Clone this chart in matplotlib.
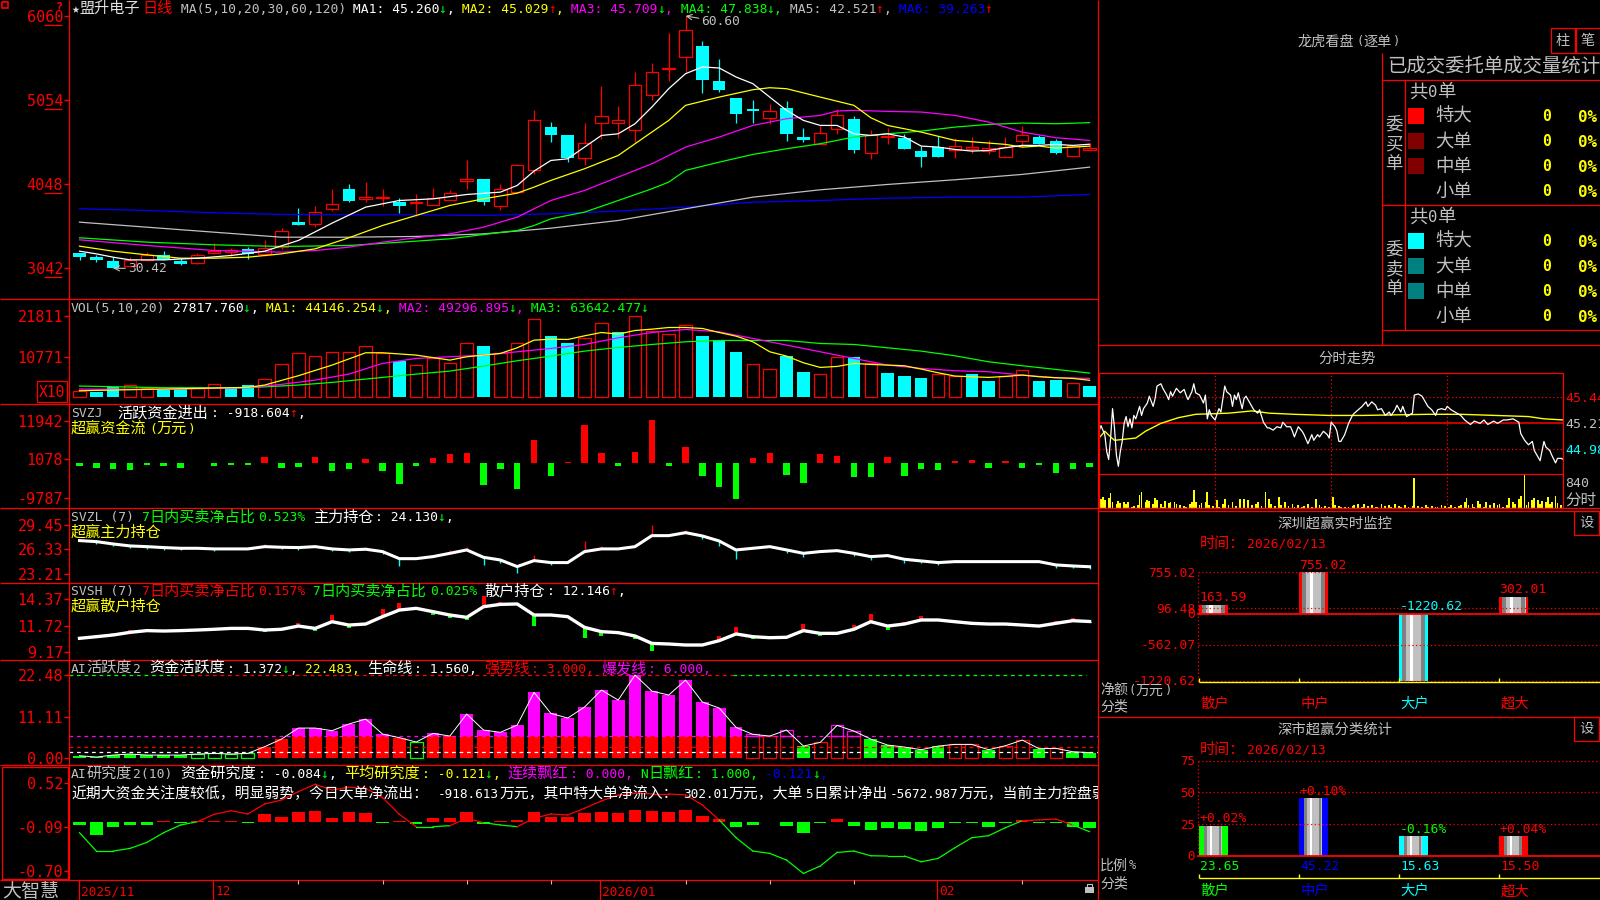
import matplotlib
matplotlib.use('Agg')
import matplotlib.pyplot as plt
from matplotlib.patches import Rectangle
import numpy as np

# ---------------- daily candles (盟升电子 日线) ----------------
opens = [32.27, 31.83, 31.35, 30.75, 31.43, 32.07, 31.35, 31.03, 32.27, 32.43,
         32.75, 32.15, 32.95, 35.90, 35.74, 37.50, 39.93, 38.69, 38.81, 38.30,
         38.22, 37.98, 38.65, 40.89, 41.13, 37.90, 39.53, 42.21, 47.31, 46.31,
         43.64, 47.83, 47.83, 46.99, 51.14, 54.26, 55.69, 56.97, 52.78, 50.82,
         49.43, 48.43, 49.59, 46.12, 45.32, 47.11, 48.31, 44.20, 46.08, 46.04,
         44.40, 44.92, 44.60, 44.72, 44.44, 43.72, 45.64, 46.12, 45.60, 43.88, 44.60]
closes = [31.75, 31.39, 30.45, 31.43, 31.99, 31.39, 30.95, 32.03, 32.55, 32.63,
          32.15, 32.87, 34.94, 35.62, 37.18, 38.14, 38.46, 38.93, 38.93, 37.86,
          38.38, 38.85, 39.45, 41.13, 38.34, 39.93, 42.72, 48.19, 46.31, 43.64,
          45.44, 48.63, 48.19, 52.38, 53.94, 54.34, 58.96, 52.90, 51.70, 48.91,
          49.27, 49.27, 46.52, 45.80, 46.64, 48.79, 44.52, 46.31, 46.24, 44.68,
          43.72, 43.72, 45.08, 44.88, 44.76, 44.92, 46.32, 45.24, 44.20, 45.04, 44.76]
highs = [32.27, 32.07, 31.75, 31.83, 32.35, 32.55, 31.67, 32.23, 33.47, 32.87,
         32.95, 33.75, 35.26, 37.66, 37.93, 39.85, 40.45, 40.69, 39.93, 38.85,
         39.25, 39.97, 39.81, 43.32, 41.13, 40.53, 42.92, 49.31, 47.87, 46.31,
         47.83, 52.18, 49.87, 53.86, 54.93, 58.60, 60.60, 57.57, 55.49, 50.82,
         50.50, 50.03, 50.39, 47.15, 47.39, 49.51, 48.63, 46.91, 47.19, 46.52,
         45.08, 46.20, 46.00, 46.08, 45.80, 46.12, 47.39, 46.32, 45.84, 45.04, 45.40]
lows = [31.47, 31.15, 30.42, 30.55, 31.27, 31.39, 30.87, 30.95, 32.15, 31.87,
        31.55, 31.87, 32.75, 35.62, 35.42, 37.26, 38.30, 38.30, 37.86, 37.02,
        36.62, 37.98, 38.65, 39.93, 37.98, 37.34, 39.45, 41.73, 45.52, 43.12,
        42.72, 45.92, 46.04, 45.52, 50.58, 52.82, 53.90, 51.38, 51.50, 47.79,
        47.79, 47.71, 45.64, 45.52, 45.32, 46.43, 44.20, 43.44, 45.24, 44.68,
        42.53, 43.72, 43.60, 44.20, 44.12, 43.72, 44.92, 45.24, 44.04, 43.88, 44.60]

ma5_idx = [0, 1, 2, 3, 5, 7, 9, 11, 13, 15, 17, 19, 21, 23, 25, 26, 27, 28, 29, 30,
           31, 32, 33, 34, 35, 36, 37, 38, 39, 40, 41, 42, 43, 44, 45, 46, 47, 48, 49, 50,
           51, 52, 53, 54, 55, 56, 57, 58, 59, 60]
ma5 = [32.47, 32.15, 31.75, 31.43, 31.43, 31.63, 31.95, 32.47, 33.75, 35.82,
       37.74, 38.53, 38.73, 39.25, 39.53, 40.33, 42.05, 43.32, 43.52, 44.92,
       46.31, 46.51, 47.71, 49.71, 51.90, 53.70, 54.50, 54.38, 53.30, 52.50,
       50.90, 49.31, 48.11, 47.51, 47.51, 46.51, 46.31, 46.51, 46.12, 45.04,
       44.92, 44.64, 44.44, 44.52, 44.84, 45.12, 45.12, 45.24, 45.12, 45.26]
ma10_idx = [0, 2, 4, 6, 8, 10, 12, 14, 16, 18, 20, 22, 24, 26, 27, 28, 30, 32, 33, 35,
            36, 38, 40, 41, 42, 44, 46, 47, 48, 50, 52, 54, 55, 56, 57, 58, 60]
ma10 = [33.07, 32.47, 32.03, 31.63, 31.63, 31.75, 32.15, 32.75, 34.07, 35.54,
        36.74, 37.94, 38.73, 39.41, 40.13, 40.93, 42.33, 43.92, 45.32, 48.11,
        49.91, 50.90, 51.78, 52.02, 51.90, 50.90, 49.91, 48.43, 47.51, 46.71,
        45.72, 45.40, 45.24, 44.92, 45.04, 44.80, 45.03]
ma20_idx = [0, 4, 8, 12, 14, 16, 18, 20, 22, 24, 26, 27, 28, 30, 32, 34, 36, 38, 40, 42,
            44, 45, 46, 48, 50, 52, 54, 56, 58, 60]
ma20 = [33.83, 33.15, 32.55, 32.35, 32.55, 32.95, 33.55, 34.07, 34.54, 35.34,
        36.54, 37.54, 38.53, 39.73, 41.33, 42.92, 44.92, 46.12, 47.51, 48.31,
        48.71, 49.23, 49.31, 49.19, 49.11, 48.71, 47.91, 46.71, 46.04, 45.71]
ma30_idx = [0, 4, 8, 12, 16, 20, 22, 24, 26, 27, 28, 30, 32, 34, 35, 36, 38, 40, 42, 44,
            46, 48, 50, 52, 54, 56, 58, 60]
ma30 = [34.07, 33.55, 33.23, 33.03, 33.15, 33.67, 33.95, 34.46, 34.94, 35.54,
        36.34, 37.14, 38.53, 39.93, 40.73, 42.13, 43.12, 44.04, 44.72, 45.32,
        46.12, 46.51, 46.83, 47.31, 47.63, 47.79, 47.71, 47.84]
ma_long_idx = [0, 4, 8, 12, 16, 20, 24, 28, 32, 36, 40, 44, 48, 52, 56, 60]
ma60 = [35.94, 35.34, 34.74, 34.14, 34.14, 34.23, 34.54, 35.22,
        36.14, 37.54, 38.93, 39.81, 40.45, 41.01, 41.65, 42.52]
ma120 = [37.54, 37.34, 37.06, 36.86, 36.82, 36.82, 36.74, 36.94,
         37.26, 37.74, 38.33, 38.53, 38.81, 38.93, 38.93, 39.26]

# ---------------- volume (x10) ----------------
vol = [1523, 1344, 2688, 3136, 2419, 1971, 1971, 2419, 3315, 2240,
       3136, 4659, 8691, 11648, 10931, 11917, 11917, 13530, 11738, 9587,
       8422, 10483, 8960, 14336, 13619, 11648, 14336, 20877, 16307, 14426,
       15680, 19981, 17382, 21862, 17651, 16755, 19264, 16307, 15142, 12006,
       8691, 7347, 10931, 6630, 6003, 10662, 10662, 8960, 6362, 5555,
       5018, 6003, 5555, 6093, 4211, 5555, 7078, 4211, 4480, 3584, 2782]
vol_up = [1, 0, 0, 1, 1, 0, 0, 1, 1, 0,
          0, 1, 1, 1, 1, 1, 1, 1, 1, 0,
          1, 1, 1, 1, 0, 1, 1, 1, 0, 0,
          1, 1, 0, 1, 1, 1, 1, 0, 0, 0,
          1, 1, 0, 0, 1, 1, 0, 1, 0, 0,
          0, 1, 1, 0, 0, 1, 1, 0, 0, 1, 0]
vma5_idx = [0, 5, 10, 11, 13, 15, 17, 18, 20, 22, 23, 24, 25, 26, 27, 28, 29, 30, 31, 32,
            33, 34, 35, 36, 37, 38, 39, 40, 41, 42, 43, 44, 45, 46, 47, 48, 49, 50, 51, 52,
            53, 54, 55, 56, 57, 58, 59, 60]
vma5 = [1613, 2061, 2509, 3136, 5645, 8512, 11827, 11827, 11200, 9856,
        10752, 11200, 11648, 13171, 15232, 15501, 15411, 16397, 17293, 16845,
        17830, 18189, 18637, 18637, 18368, 17293, 16307, 14784, 12096, 10931,
        9139, 7885, 8154, 8960, 8691, 8512, 8333, 7437, 6451, 5555,
        5376, 5197, 5466, 5824, 5376, 5107, 4928, 4415]
vma10_idx = [0, 5, 10, 12, 14, 16, 18, 20, 22, 24, 26, 28, 30, 32, 34, 36, 38, 40, 42, 44,
             46, 48, 50, 52, 54, 56, 58, 60]
vma10 = [2061, 1971, 2419, 3315, 4480, 6093, 8960, 10304, 10752, 11200,
         12096, 12992, 14067, 15859, 17293, 18099, 17472, 15680, 13888, 12096,
         10304, 8512, 7616, 6989, 6720, 5824, 5107, 4930]
vma20_idx = [0, 5, 10, 13, 15, 18, 20, 22, 24, 26, 28, 30, 32, 34, 36, 38, 40, 42, 44, 46,
             48, 50, 52, 54, 56, 58, 60]
vma20 = [2867, 2419, 2419, 3136, 3853, 5197, 6093, 6899, 8243, 9677,
         10931, 12275, 13261, 14067, 14784, 15142, 15142, 15142, 14336, 14067,
         13171, 12275, 11021, 9408, 8333, 7347, 6364]

# ---------------- indicators ----------------
svzj = [-724, -1177, -1448, -1991, -453, -724, -1177, 100, -724, -453,
        -453, 1720, -1177, -905, 1720, -2263, -1720, 1177, -2263, -5792,
        -724, 1448, 2534, 2806, -6064, -1448, -7150, 6426, -3620, 362,
        10679, 2806, -724, 3077, 12037, -634, 4706, -3620, -6607, -9865,
        1448, 2806, -3349, -5521, 2534, 1991, -3892, -3892, 1720, -3620,
        -1720, -1991, 634, 905, -1177, 634, -1177, -453, -2806, -1448, -919]
svzl = [27.46, 27.33, 27.03, 26.78, 26.69, 26.57, 26.48, 26.48, 26.40, 26.40,
        26.40, 26.69, 26.61, 26.57, 26.69, 26.40, 26.27, 26.36, 26.06, 25.16,
        25.16, 25.42, 25.84, 26.27, 25.33, 24.99, 24.15, 24.91, 24.66, 24.66,
        26.06, 26.40, 26.40, 26.69, 28.09, 28.09, 28.47, 28.05, 27.41, 26.27,
        26.48, 26.69, 26.27, 25.84, 26.06, 26.18, 25.84, 25.42, 25.55, 25.08,
        24.87, 24.66, 24.78, 24.78, 24.78, 24.78, 24.78, 24.78, 24.36, 24.23, 24.13]
svsh = [10.49, 10.65, 10.82, 11.08, 11.25, 11.21, 11.25, 11.31, 11.38, 11.47,
        11.47, 11.31, 11.38, 11.70, 11.47, 12.13, 11.80, 11.90, 12.63, 13.28,
        13.45, 13.12, 12.79, 12.56, 13.61, 13.84, 13.88, 12.79, 12.79, 12.63,
        11.57, 11.15, 11.05, 10.72, 9.99, 9.93, 9.83, 9.83, 10.26, 10.92,
        10.65, 10.55, 10.59, 11.25, 10.98, 10.98, 11.38, 12.13, 11.70, 11.90,
        12.30, 12.30, 12.13, 11.97, 11.90, 11.90, 11.80, 11.70, 11.97, 12.23, 12.15]
huoyue = [0.54, 0.18, 0.72, 1.00, 0.72, 0.72, 0.72, 1.00, 1.18, 1.00,
          1.18, 3.00, 5.07, 8.06, 8.06, 7.34, 9.15, 10.51, 6.43, 5.44,
          4.26, 6.61, 5.89, 11.87, 7.52, 6.89, 8.88, 17.76, 12.05, 10.78,
          13.77, 18.39, 15.67, 22.47, 18.12, 17.03, 21.11, 15.13, 13.50, 8.24,
          6.34, 5.89, 7.52, 3.17, 4.17, 8.79, 7.25, 5.07, 3.44, 2.90,
          2.17, 3.17, 3.62, 3.62, 2.17, 3.26, 4.80, 2.45, 2.54, 1.63, 1.37]
# R/G filled, r/g hollow
huoyue_style = "GGGGGGGggggRRRRRRRRRgRRRRRRRRRRRRRRRRRRRrrrGrrrGGGGGrrGrrGrGG"
yanjiu = [-0.046, -0.185, -0.069, -0.046, -0.046, 0.010, -0.023, 0.010, 0.010, 0.010,
          -0.023, 0.106, 0.060, 0.139, 0.153, 0.046, 0.134, 0.125, -0.014, 0.010,
          -0.032, 0.051, 0.051, 0.134, -0.032, 0.010, 0.023, 0.130, 0.069, 0.060,
          0.125, 0.139, 0.125, 0.162, 0.148, 0.139, 0.162, 0.083, 0.037, -0.069,
          -0.046, -0.010, -0.056, -0.153, -0.014, 0.032, -0.056, -0.116, -0.083, -0.102,
          -0.125, -0.083, -0.014, -0.023, -0.069, -0.014, 0.023, -0.023, -0.014, -0.069, -0.084]
yanjiu_line = [-0.173, -0.428, -0.428, -0.391, -0.308, -0.173, -0.067, -0.021, 0.081, 0.132,
               0.086, 0.225, 0.280, 0.396, 0.498, 0.419, 0.456, 0.442, 0.313, 0.081,
               -0.090, -0.090, -0.076, 0.026, -0.034, -0.067, -0.090, 0.026, 0.086, 0.072,
               0.165, 0.267, 0.350, 0.373, 0.364, 0.364, 0.350, 0.211, 0.003, -0.243,
               -0.428, -0.460, -0.553, -0.738, -0.636, -0.447, -0.428, -0.493, -0.497, -0.497,
               -0.576, -0.530, -0.382, -0.243, -0.215, -0.104, -0.007, 0.003, 0.016, -0.067, -0.159]
date_idx = [0, 8, 31, 51]
date_lab = ['2025/11', '12', '2026/01', '02']
week_idx = [13, 18, 23, 28, 36, 41, 46, 56]

# ---------------- intraday (分时走势) ----------------
fs_t = [0, 1, 3, 4, 5, 6, 7, 8, 9, 10, 11, 12, 13, 14, 15, 16, 17, 18, 19, 21,
        22, 23, 25, 26, 28, 29, 30, 32, 33, 35, 36, 37, 38, 40, 42, 44, 45, 46, 48, 49,
        50, 52, 54, 55, 56, 57, 58, 60, 62, 63, 65, 66, 68, 69, 70, 71, 72, 74, 75, 76,
        78, 80, 82, 83, 85, 87, 88, 90, 92, 94, 95, 97, 99, 100, 101, 103, 105, 106, 108, 110,
        111, 113, 114, 116, 118, 119, 120, 122, 123, 124, 125, 127, 129, 131, 132, 134, 136, 138, 139, 141,
        143, 144, 146, 148, 150, 151, 153, 154, 156, 157, 159, 160, 162, 163, 165, 167, 169, 170, 172, 174,
        175, 177, 179, 180, 182, 184, 187, 189, 192, 194, 197, 199, 201, 204, 206, 209, 211, 214, 217, 218,
        220, 222, 224, 225, 228, 230, 231, 233, 234, 236, 237, 239, 240]
fs_p = [45.14, 45.19, 45.11, 44.96, 44.89, 45.08, 45.34, 45.17, 44.93, 44.83,
        44.96, 45.05, 45.21, 45.27, 45.18, 45.25, 45.17, 45.28, 45.25, 45.36,
        45.28, 45.34, 45.39, 45.45, 45.36, 45.43, 45.54, 45.56, 45.52, 45.46,
        45.42, 45.49, 45.45, 45.52, 45.48, 45.51, 45.46, 45.42, 45.49, 45.56,
        45.48, 45.46, 45.39, 45.46, 45.25, 45.33, 45.28, 45.24, 45.34, 45.31,
        45.54, 45.49, 45.46, 45.36, 45.46, 45.42, 45.48, 45.34, 45.43, 45.45,
        45.39, 45.33, 45.30, 45.33, 45.22, 45.17, 45.17, 45.15, 45.18, 45.17,
        45.22, 45.18, 45.18, 45.14, 45.09, 45.18, 45.14, 45.11, 45.03, 45.11,
        45.06, 45.11, 45.09, 45.14, 45.11, 45.08, 45.22, 45.18, 45.14, 45.05,
        45.05, 45.11, 45.21, 45.28, 45.30, 45.33, 45.36, 45.40, 45.36, 45.40,
        45.37, 45.33, 45.34, 45.28, 45.31, 45.28, 45.33, 45.37, 45.31, 45.36,
        45.27, 45.28, 45.30, 45.46, 45.47, 45.45, 45.39, 45.36, 45.33, 45.28,
        45.33, 45.34, 45.33, 45.36, 45.33, 45.31, 45.28, 45.24, 45.20, 45.23,
        45.21, 45.24, 45.20, 45.23, 45.21, 45.24, 45.24, 45.25, 45.22, 45.12,
        45.06, 45.02, 45.05, 44.97, 44.88, 45.05, 45.00, 44.97, 44.93, 44.86,
        44.90, 44.90, 44.89]
fs_avg_t = [0, 3, 6, 8, 19, 24, 32, 41, 50, 67, 79, 88, 101, 119, 136, 170, 187, 205, 222, 230, 240]
fs_avg = [45.08, 45.14, 45.09, 45.06, 45.08, 45.14, 45.21, 45.26, 45.29, 45.30, 45.32,
          45.30, 45.29, 45.28, 45.28, 45.29, 45.29, 45.28, 45.27, 45.25, 45.24]
fs_vt = [1, 2, 3, 5, 6, 7, 9, 10, 11, 13, 14, 15, 17, 18, 20, 21, 22, 24, 25, 26,
         28, 29, 30, 32, 33, 34, 36, 37, 39, 40, 42, 44, 45, 47, 48, 49, 50, 52, 53, 55,
         56, 57, 59, 61, 62, 64, 65, 67, 69, 71, 73, 75, 77, 79, 81, 82, 84, 86, 88, 89,
         91, 93, 94, 96, 98, 100, 101, 103, 105, 106, 108, 110, 112, 114, 115, 117, 119, 121, 122, 124,
         125, 127, 129, 131, 132, 134, 136, 137, 139, 141, 143, 144, 146, 148, 150, 151, 153, 155, 156, 158,
         160, 162, 163, 165, 167, 169, 170, 172, 174, 175, 177, 179, 181, 182, 184, 186, 187, 189, 190, 191,
         193, 194, 196, 197, 199, 200, 202, 204, 206, 207, 209, 211, 212, 214, 215, 217, 218, 220, 221, 222,
         224, 225, 227, 228, 229, 231, 232, 233, 234, 236, 237, 239]
fs_v = [305, 382, 273, 327, 491, 218, 131, 240, 164, 218,
        131, 196, 55, 76, 109, 436, 545, 218, 273, 240,
        131, 327, 273, 131, 55, 240, 164, 218, 196, 131,
        109, 87, 55, 131, 218, 600, 218, 109, 164, 218,
        545, 109, 76, 273, 55, 131, 305, 109, 218, 87,
        305, 305, 273, 109, 131, 218, 87, 545, 305, 131,
        87, 382, 109, 218, 87, 131, 55, 109, 44, 76,
        131, 55, 305, 109, 55, 87, 44, 382, 109, 76,
        44, 55, 55, 87, 109, 131, 55, 131, 76, 109,
        55, 44, 131, 76, 109, 55, 131, 76, 44, 109,
        55, 76, 1014, 76, 44, 109, 44, 87, 55, 44,
        109, 76, 44, 109, 44, 76, 109, 218, 349, 109,
        153, 55, 240, 131, 55, 218, 109, 164, 109, 131,
        55, 109, 349, 218, 131, 305, 414, 1123, 109, 218,
        273, 349, 273, 131, 240, 218, 382, 131, 218, 414,
        164, 109]

# ---------------- right-side bar panels ----------------
cats = ['散户', '中户', '大户', '超大']
net_amount = [163.59, 755.02, -1220.62, 302.01]
net_ticks = [755.02, 96.48, -562.07, -1220.62]
ratio = [23.65, 45.22, 15.63, 15.50]
ratio_chg = ['+0.02%', '+0.10%', '-0.16%', '+0.04%']
ratio_ticks = [75, 50, 25, 0]
order_rows = ['特大', '大单', '中单', '小单']

RED, CYAN, GREEN, MAG = '#ff0000', '#00ffff', '#00ff00', '#ff00ff'
YEL, GRAY, WHITE, BLUE = '#ffff00', '#c0c0c0', '#ffffff', '#0000ff'
MONO = ['DejaVu Sans Mono', 'DejaVu Sans']
CJK = ['Noto Sans CJK SC', 'DejaVu Sans']
W, H = 1600, 900

fig = plt.figure(figsize=(16, 9), dpi=100, facecolor='black')
ov = fig.add_axes([0, 0, 1, 1], zorder=10)
ov.set_xlim(0, W)
ov.set_ylim(H, 0)
ov.axis('off')


def px_axes(x0, y0, x1, y1):
    ax = fig.add_axes([x0 / W, 1 - y1 / H, (x1 - x0) / W, (y1 - y0) / H])
    ax.set_facecolor('black')
    for s in ax.spines.values():
        s.set_visible(False)
    ax.set_xticks([])
    ax.set_yticks([])
    return ax


def to_px(ax, x, y):
    dx, dy = ax.transData.transform((x, y))
    return dx, H - dy


def put(x, y, parts, w=7.8, weight='normal'):
    # fixed cell layout like the terminal font: ascii = w px, cjk = 2w px
    fs_n = w / 0.602 * 0.72
    fs_w = 2 * w * 0.97 * 0.72
    base = y + 0.36 * w / 0.602
    for s, col in parts:
        i = 0
        while i < len(s):
            wide = ord(s[i]) >= 0x2E80
            j = i
            while j < len(s) and (ord(s[j]) >= 0x2E80) == wide:
                j += 1
            run = s[i:j]
            if run.strip():
                ov.text(x, base, run, color=col, fontsize=fs_w if wide else fs_n,
                        family=CJK if wide else MONO, va='baseline', ha='left',
                        fontweight=weight)
            x += len(run) * (2 * w if wide else w)
            i = j
    return x


def hl(y, x0, x1, c=RED, lw=0.9, ls='-', z=2):
    ov.plot([x0, x1], [y, y], color=c, lw=lw, ls=ls, solid_capstyle='butt', zorder=z)


def vl(x, y0, y1, c=RED, lw=0.9, ls='-', z=2):
    ov.plot([x, x], [y0, y1], color=c, lw=lw, ls=ls, solid_capstyle='butt', zorder=z)


X0, X1 = 69.4, 1098
XL = (-0.6, 60.5)


def panel(y0, y1, ylim, ticks, labels):
    ax = px_axes(X0, y0, X1, y1)
    ax.set_xlim(*XL)
    ax.set_ylim(*ylim)
    ax.set_yticks(ticks)
    ax.set_yticklabels(labels, family=MONO, fontsize=10.9)
    ax.tick_params(axis='y', colors=RED, length=3.5, width=1, direction='out', pad=1)
    return ax


x = np.arange(len(opens))

# ---- candles ----
ax_k = panel(0, 299, (26.75, 62.51), [60.60, 50.54, 40.48, 30.42], ['6060', '5054', '4048', '3042'])
o, c, hi, lo = map(np.array, (opens, closes, highs, lows))
up = c >= o
top, bot = np.maximum(o, c), np.minimum(o, c)
ax_k.vlines(x[~up], lo[~up], hi[~up], color=CYAN, lw=0.9)
ax_k.vlines(x[up], top[up], hi[up], color=RED, lw=0.9)
ax_k.vlines(x[up], lo[up], bot[up], color=RED, lw=0.9)
ax_k.bar(x[~up], np.maximum(top - bot, 0.1)[~up], bottom=bot[~up], width=0.74, color=CYAN, lw=0)
ax_k.bar(x[up], np.maximum(top - bot, 0.05)[up], bottom=bot[up], width=0.74,
         facecolor='none', edgecolor=RED, lw=0.9)
for idx, vals, col in [(ma_long_idx, ma120, BLUE), (ma_long_idx, ma60, GRAY), (ma30_idx, ma30, GREEN),
                       (ma20_idx, ma20, MAG), (ma10_idx, ma10, YEL), (ma5_idx, ma5, WHITE)]:
    ax_k.plot(idx, vals, color=col, lw=0.9, zorder=3)
imax, imin = int(np.argmax(hi)), int(np.argmin(lo))
ax_k.annotate(f'{hi[imax]:.2f}', xy=(imax, hi[imax]), xytext=(16, -6), textcoords='offset pixels',
              color=GRAY, family=MONO, fontsize=9.3, va='center', ha='left',
              arrowprops=dict(arrowstyle='->', color=GRAY, lw=0.8, shrinkA=0, shrinkB=0))
ax_k.annotate(f'{lo[imin]:.2f}', xy=(imin, lo[imin]), xytext=(15, 0), textcoords='offset pixels',
              color=GRAY, family=MONO, fontsize=9.3, va='center', ha='left',
              arrowprops=dict(arrowstyle='->', color=GRAY, lw=0.8, shrinkA=0, shrinkB=0))
for p in [60.60, 50.54, 40.48, 30.42]:
    _, py = to_px(ax_k, 0, p)
    hl(py + 9, 44, 62, lw=0.9)

# ---- volume ----
ax_v = panel(299, 404, (-1966, 26311), [21811, 10771], ['21811', '10771'])
vu = np.array(vol_up, bool)
va = np.array(vol)
ax_v.bar(x[~vu], va[~vu], width=0.74, color=CYAN, lw=0)
ax_v.bar(x[vu], va[vu], width=0.74, facecolor='none', edgecolor=RED, lw=0.9)
ax_v.plot(vma20_idx, vma20, color=GREEN, lw=0.9)
ax_v.plot(vma10_idx, vma10, color=MAG, lw=0.9)
ax_v.plot(vma5_idx, vma5, color=YEL, lw=0.9)

# ---- SVZJ ----
ax_zj = panel(404, 508, (-12503, 16618), [11942, 1078, -9787], ['11942', '1078', '-9787'])
zj = np.array(svzj)
ax_zj.bar(x, zj, width=0.38, color=[RED if v > 0 else GREEN for v in zj], lw=0)

# ---- SVZL ----
ax_zl = panel(508, 583, (22.06, 31.61), [29.45, 26.33, 23.21], ['29.45', '26.33', '23.21'])
zl = np.array(svzl)
d = np.diff(zl)
d = np.where((np.abs(d) < 0.25) & (d != 0), np.sign(d) * 0.25, d)
ax_zl.vlines(x[1:], zl[1:], zl[1:] + d, colors=[RED if v > 0 else CYAN for v in d], lw=1.0)
ax_zl.plot(x, zl, color=WHITE, lw=2.2)

# ---- SVSH ----
ax_sh = panel(583, 660, (8.35, 15.95), [14.37, 11.72, 9.17], ['14.37', '11.72', '9.17'])
sh = np.array(svsh)
d = np.diff(sh)
d = np.where((np.abs(d) < 0.1) & (d != 0), np.sign(d) * 0.1, d)
ax_sh.bar(x[1:], d, bottom=sh[1:], width=0.24, color=[RED if v > 0 else GREEN for v in d], lw=0)
ax_sh.plot(x, sh, color=WHITE, lw=2.4)

# ---- AI活跃度 ----
ax_hy = panel(660, 765, (-1.98, 26.56), [22.48, 11.11, 0.0], ['22.48', '11.11', '0.00'])
hy = np.array(huoyue)
st = np.array(list(huoyue_style))
low, upp = np.minimum(hy, 6.0), np.maximum(hy - 6.0, 0)
m = st == 'R'
ax_hy.bar(x[m], low[m], width=0.76, color=RED, lw=0)
ax_hy.bar(x[m], upp[m], bottom=6.0, width=0.76, color=MAG, lw=0)
m = st == 'r'
ax_hy.bar(x[m], low[m], width=0.76, facecolor='none', edgecolor=RED, lw=0.9)
m2 = m & (upp > 0)
ax_hy.bar(x[m2], upp[m2], bottom=6.0, width=0.76, facecolor='none', edgecolor=MAG, lw=0.9)
m = st == 'G'
ax_hy.bar(x[m], hy[m], width=0.76, color=GREEN, lw=0)
m = st == 'g'
ax_hy.bar(x[m], hy[m], width=0.76, facecolor='none', edgecolor=GREEN, lw=0.9)
ax_hy.axhline(6.0, color=MAG, lw=0.9, ls=(0, (3, 3)))
ax_hy.axhline(3.0, color=RED, lw=0.9, ls=(0, (3, 3)))
ax_hy.axhline(1.56, color=WHITE, lw=0.9, ls=(0, (3, 3)))
ax_hy.hlines(22.483, -0.6, 5.7, colors=GREEN, lw=0.9, linestyles=(0, (3, 3)))
ax_hy.hlines(22.483, 5.7, 38.8, colors=RED, lw=0.9, linestyles=(0, (3, 3)))
ax_hy.hlines(22.483, 38.8, 59.8, colors=GREEN, lw=0.9, linestyles=(0, (3, 3)))
ax_hy.plot(x, hy, color=WHITE, lw=0.7)

# ---- AI研究度 ----
ax_yj = panel(765, 880, (-0.829, 0.765), [0.52, -0.09, -0.70], ['0.52', '-0.09', '-0.70'])
yj = np.array(yanjiu)
ax_yj.bar(x, yj, bottom=-0.02, width=0.74, color=[RED if v > 0 else GREEN for v in yj], lw=0)
yl = np.array(yanjiu_line)
for i in range(len(yl) - 1):
    col = RED if (yl[i] + yl[i + 1]) / 2 > -0.04 else GREEN
    ax_yj.plot([i, i + 1], [yl[i], yl[i + 1]], color=col, lw=0.9)

# ---- panel frames and titles ----
for y in [299, 404, 508, 583, 660, 765, 880]:
    hl(y, 0, X1)
vl(X0, 0, 880)
ov.add_patch(Rectangle((2, 767), 66, 112, fill=False, ec=RED, lw=0.9))
ov.add_patch(Rectangle((2, 2), 6, 6, fill=False, ec=RED, lw=1.2))
put(56, 7, [('?', RED)], w=7, weight='bold')

put(72, 8, [('★盟升电子', '#e0e0e0'), ('日线', RED), (' MA(5,10,20,30,60,120)', GRAY),
            (' MA1: 45.260', WHITE), ('↓', GREEN), (',', WHITE),
            (' MA2: 45.029', YEL), ('↑', RED), (',', YEL),
            (' MA3: 45.709', MAG), ('↓', GREEN), (',', MAG),
            (' MA4: 47.838', GREEN), ('↓', GREEN), (',', GREEN),
            (' MA5: 42.521', GRAY), ('↑', RED), (',', GRAY),
            (' MA6: 39.263', BLUE), ('↑', RED)])
put(71, 307.7, [('VOL(5,10,20)', GRAY), (' 27817.760', WHITE), ('↓', GREEN), (',', WHITE),
                (' MA1: 44146.254', YEL), ('↓', GREEN), (',', YEL),
                (' MA2: 49296.895', MAG), ('↓', GREEN), (',', MAG),
                (' MA3: 63642.477', GREEN), ('↓', GREEN)])
ov.add_patch(Rectangle((37, 381), 30, 21, fill=False, ec=RED, lw=0.9))
put(39, 391.5, [('X10', RED)], w=8.8)
put(71, 412.7, [('SVZJ', GRAY), ('  活跃资金进出: -918.604', WHITE), ('↑', RED), (',', WHITE)])
put(71, 428.3, [('超赢资金流(万元)', YEL)])
put(71, 516.7, [('SVZL (7) ', GRAY), ('7日内买卖净占比0.523%', GREEN),
                (' 主力持仓: 24.130', WHITE), ('↓', GREEN), (',', WHITE)])
put(71, 532.3, [('超赢主力持仓', YEL)])
put(71, 590.7, [('SVSH (7) ', GRAY), ('7日内买卖净占比0.157%', RED), (' 7日内买卖净占比0.025%', GREEN),
                (' 散户持仓: 12.146', WHITE), ('↑', RED), (',', WHITE)])
put(71, 606, [('超赢散户持仓', YEL)])
put(71, 668.3, [('AI活跃度2', GRAY), (' 资金活跃度: 1.372', WHITE), ('↓', GREEN), (',', WHITE),
                (' 22.483,', YEL), (' 生命线: 1.560,', WHITE), (' 强势线: 3.000,', RED),
                (' 爆发线: 6.000,', MAG)])
put(71, 773.3, [('AI研究度2(10)', GRAY), (' 资金研究度: -0.084', WHITE), ('↓', GREEN), (',', WHITE),
                (' 平均研究度: -0.121', YEL), ('↓', GREEN), (',', YEL),
                (' 连续飘红: 0.000,', MAG), (' N日飘红: 1.000,', GREEN),
                (' -0.121', BLUE), ('↓', GREEN), (',', BLUE)])
put(71, 793.3, [('近期大资金关注度较低，明显弱势，今日大单净流出：-918.613万元，其中特大单净流入：'
                 '302.01万元，大单5日累计净出-5672.987万元，当前主力控盘弱', WHITE)], w=7.65)
# the terminal cuts this sentence at the panel edge
ov.add_patch(Rectangle((X1 + 0.5, 783), 80, 20, fc='black', ec='none', zorder=4))
vl(X1, 0, H, z=5)

# date axis
put(2, 891, [('大智慧', GRAY)], w=9.8)
for i, lab in zip(date_idx, date_lab):
    px, _ = to_px(ax_yj, i, 0)
    vl(px - 1, 880, H)
    put(px + 1, 890.5, [(lab, RED)], w=7.7)
for i in week_idx:
    px, _ = to_px(ax_yj, i, 0)
    vl(px, 880, 884, c=GRAY, lw=0.8)
ov.add_patch(Rectangle((1085, 887), 9, 6, fc=GRAY, ec='none'))
ov.plot([1087, 1087, 1092, 1092], [887, 883.5, 883.5, 887], color=GRAY, lw=0.8)

# ---------------- right: 龙虎看盘 ----------------
put(1297.7, 41, [('龙虎看盘(逐单)', GRAY)], w=7.3)
ov.add_patch(Rectangle((1550.7, 28.3), 24.3, 25, fill=False, ec=RED, lw=0.9))
ov.add_patch(Rectangle((1575.7, 28.3), 24.3, 25, fill=False, ec=RED, lw=0.9))
put(1555.5, 41, [('柱', GRAY)], w=7.3)
put(1580.5, 41, [('笔', GRAY)], w=7.3)
vl(1382.3, 53.3, 344.5)
put(1386.7, 66, [('已成交委托单成交量统计', GRAY)], w=10)
for y in [80.3, 205.3, 330.3]:
    hl(y, 1382.3, W)
vl(1405, 80.3, 330.3)
for y0, side, sq_cols in [(80.3, '委买单', [RED, '#800000', '#800000', None]),
                          (205.3, '委卖单', [CYAN, '#008080', '#008080', None])]:
    for k, ch in enumerate(side):
        put(1385.5, y0 + 43.7 + k * 19.7, [(ch, GRAY)], w=9)
    put(1409.3, y0 + 11.4, [('共0单', GRAY)], w=9.5)
    for k, (name, sc) in enumerate(zip(order_rows, sq_cols)):
        yc = y0 + 35.7 + k * 25
        if sc is not None:
            ov.add_patch(Rectangle((1408.3, yc - 7.8), 15.7, 15.7, fc=sc, ec='none'))
        put(1435, yc, [(name, GRAY)], w=9.5)
        put(1541.7, yc, [('0', YEL)], w=9, weight='bold')
        put(1577.7, yc, [('0%', YEL)], w=9.5, weight='bold')
hl(344.5, X1, W)

# ---------------- right: 分时走势 ----------------
put(1318.4, 358, [('分时走势', GRAY)], w=7.4)
ax_fp = px_axes(1099, 372.7, 1563.3, 474)
ax_fp.set_xlim(0, 240)
ax_fp.set_ylim(44.762, 45.658)
ax_fv = px_axes(1099, 474, 1563.3, 508.3)
ax_fv.set_xlim(0, 240)
ax_fv.set_ylim(0, 1130)
for a in (ax_fp, ax_fv):
    for t in (60, 120, 180):
        a.axvline(t, color=RED, lw=0.9, ls=(0, (1, 2)))
ax_fp.axhline(45.44, color=RED, lw=0.9, ls=(0, (1, 2)))
ax_fp.axhline(44.98, color=RED, lw=0.9, ls=(0, (1, 2)))
ax_fp.axhline(45.21, color=RED, lw=1.1)
ax_fp.plot(fs_avg_t, fs_avg, color=YEL, lw=1.0)
ax_fp.plot(fs_t, fs_p, color=WHITE, lw=0.9)
ax_fv.bar(fs_vt, fs_v, width=0.9, color=YEL, lw=0)
ov.add_patch(Rectangle((1098.5, 372.7), 464.8, 135.6, fill=False, ec=RED, lw=0.9))
hl(474, 1098.5, 1563.3)
for val, col in [(45.44, RED), (45.21, GRAY), (44.98, CYAN)]:
    _, py = to_px(ax_fp, 0, val)
    put(1565, py, [(f'{val:.2f}', col)], w=8)
put(1565, 482.7, [('840', GRAY)], w=8)
put(1565, 500, [('分时', GRAY)], w=8)
hl(508.3, X1, W)


def cyl(ax, vals, cols, w=0.29, le=0.1, re=0.1):
    xs = np.arange(len(vals), dtype=float)
    vals = np.asarray(vals, float)
    ax.bar(xs, vals, width=w, color=cols, lw=0)
    inner = w * (1 - le - re)
    xc = xs - w / 2 + w * le + inner / 2
    ax.bar(xc, vals, width=inner, color='#c0c0c0', lw=0)
    ax.bar(xc - inner * 0.4, vals, width=inner * 0.14, color='#808080', lw=0)
    ax.bar(xc + inner * 0.4, vals, width=inner * 0.14, color='#808080', lw=0)
    ax.bar(xc - inner * 0.1, vals, width=inner * 0.13, color='white', lw=0)


def bar_frame(ax, ticks, zero):
    for t in ticks:
        ax.axhline(t, color=RED, lw=0.9, ls=(0, (1, 2)), clip_on=False)
    ax.axhline(zero, color=RED, lw=1.3, clip_on=False)
    ax.axvline(-0.16, color=RED, lw=0.9, ls=(0, (1, 2)), clip_on=False)


# ---------------- right: 深圳超赢实时监控 ----------------
hl(511, X1, W)
ov.add_patch(Rectangle((1574.3, 511), 24.7, 24, fill=False, ec=RED, lw=0.9))
put(1579.5, 523, [('设', GRAY)], w=7.4)
put(1277.8, 523.3, [('深圳超赢实时监控', GRAY)], w=7.4)
put(1200, 543.3, [('时间：2026/02/13', RED)], w=7.8)
ax_m = px_axes(1197.7, 572.3, 1600, 680.7)
ax_m.set_xlim(-0.16, 3.86)
ax_m.set_ylim(min(net_ticks), max(net_ticks))
bar_frame(ax_m, net_ticks, 0)
net_cols = [RED if v > 0 else CYAN for v in net_amount]
cyl(ax_m, net_amount, net_cols, le=0.08, re=0.1)
for t in net_ticks + [0]:
    _, py = to_px(ax_m, 0, t)
    s = f'{t:.2f}' if t else '0'
    put(1195 - len(s) * 7.8, py, [(s, RED)], w=7.8)
hl(682.3, 1199, W, c=YEL, lw=1.0)
for k, v in enumerate(net_amount):
    px, py_top = to_px(ax_m, k - 0.145, max(v, 0))
    put(px, py_top - 8.5, [(f'{v:.2f}', net_cols[k])], w=7.9)
    put(px + 1, 703.3, [(cats[k], net_cols[k])], w=7.4)
    vl(px, 678.3, 682.3, c=YEL, lw=1.0)
put(1100, 690, [('净额(万元)', GRAY)], w=7.2)
put(1100, 706, [('分类', GRAY)], w=7.2)

# ---------------- right: 深市超赢分类统计 ----------------
hl(716.7, X1, W)
ov.add_patch(Rectangle((1574.3, 716.7), 24.7, 24.3, fill=False, ec=RED, lw=0.9))
put(1579.5, 729, [('设', GRAY)], w=7.4)
put(1277.8, 729, [('深市超赢分类统计', GRAY)], w=7.4)
put(1200, 749.3, [('时间：2026/02/13', RED)], w=7.8)
ax_s = px_axes(1197.7, 760.7, 1600, 855.7)
ax_s.set_xlim(-0.16, 3.86)
ax_s.set_ylim(0, 75)
bar_frame(ax_s, ratio_ticks[:-1], 0)
ratio_cols = [GREEN, BLUE, CYAN, RED]
cyl(ax_s, ratio, ratio_cols, le=0.15, re=0.22)
for t in ratio_ticks:
    _, py = to_px(ax_s, 0, t)
    put(1195 - len(str(t)) * 7.5, py, [(str(t), RED)], w=7.5)
for k, v in enumerate(ratio):
    px, py_top = to_px(ax_s, k - 0.145, v)
    chg_col = GREEN if ratio_chg[k].startswith('-') else RED
    put(px, py_top - 8, [(ratio_chg[k], chg_col)], w=7.8)
    put(px + 1, 865, [(f'{v:.2f}', ratio_cols[k])], w=7.8)
    put(px + 1, 890.7, [(cats[k], ratio_cols[k])], w=7.4)
    vl(px, 874.3, 878.3, c=YEL, lw=1.0)
hl(878.3, 1199, W, c=YEL, lw=1.0)
put(1100, 865, [('比例%', GRAY)], w=7.2)
put(1100, 883.3, [('分类', GRAY)], w=7.2)

fig.savefig('out.png', dpi=100, facecolor='black')
plt.close(fig)
